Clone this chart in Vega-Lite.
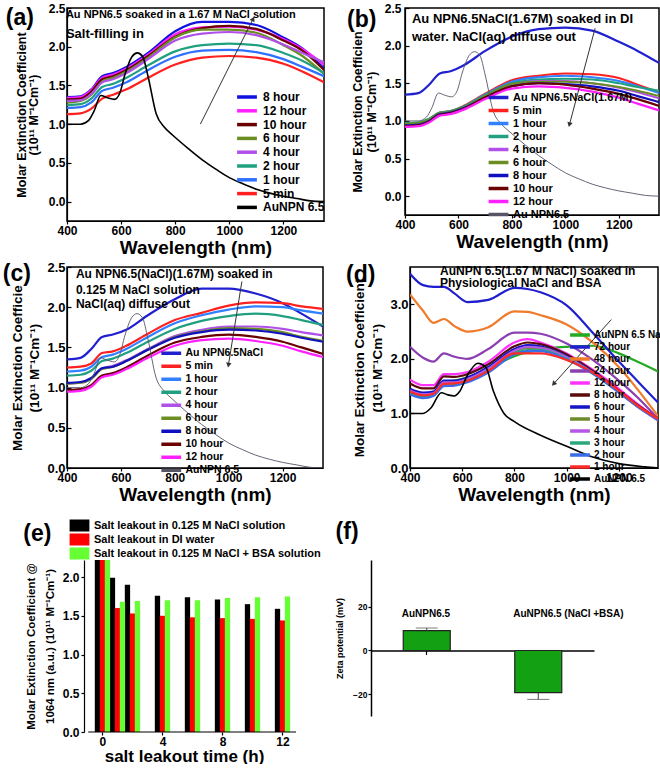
{
"$schema": "https://vega.github.io/schema/vega-lite/v6.json",
"background": "white",
"padding": {"left": 2, "top": 1, "right": 0, "bottom": 0},
"config": {
 "font": "Liberation Sans",
 "view": {"stroke": "#000", "strokeWidth": 1.5},
 "axis": {"grid": false, "labelFontWeight": "bold", "titleFontWeight": "bold", "labelColor": "#000", "titleColor": "#000", "domainColor": "#000", "tickColor": "#000", "domainWidth": 1.2, "tickWidth": 1.2, "tickSize": 3, "labelFlush": false, "labelOverlap": false, "labelFontSize": 12, "labelPadding": 1},
 "legend": {"labelFontWeight": "bold", "labelColor": "#000", "labelLimit": 400, "padding": 0, "direction": "vertical"}
},
"datasets": {
 "a": [
  {"s":"8 hour","w":400,"v":1.35},{"s":"8 hour","w":450,"v":1.36},{"s":"8 hour","w":490,"v":1.45},{"s":"8 hour","w":530,"v":1.62},{"s":"8 hour","w":570,"v":1.66},{"s":"8 hour","w":620,"v":1.74},{"s":"8 hour","w":700,"v":1.92},{"s":"8 hour","w":800,"v":2.2},{"s":"8 hour","w":900,"v":2.32},{"s":"8 hour","w":1000,"v":2.32},{"s":"8 hour","w":1100,"v":2.28},{"s":"8 hour","w":1200,"v":2.12},{"s":"8 hour","w":1270,"v":1.98},{"s":"8 hour","w":1350,"v":1.72},
  {"s":"12 hour","w":400,"v":1.34},{"s":"12 hour","w":450,"v":1.35},{"s":"12 hour","w":490,"v":1.44},{"s":"12 hour","w":530,"v":1.6},{"s":"12 hour","w":570,"v":1.64},{"s":"12 hour","w":620,"v":1.72},{"s":"12 hour","w":700,"v":1.9},{"s":"12 hour","w":800,"v":2.16},{"s":"12 hour","w":900,"v":2.25},{"s":"12 hour","w":1000,"v":2.26},{"s":"12 hour","w":1100,"v":2.22},{"s":"12 hour","w":1200,"v":2.1},{"s":"12 hour","w":1270,"v":1.97},{"s":"12 hour","w":1350,"v":1.77},
  {"s":"10 hour","w":400,"v":1.32},{"s":"10 hour","w":450,"v":1.33},{"s":"10 hour","w":490,"v":1.42},{"s":"10 hour","w":530,"v":1.58},{"s":"10 hour","w":570,"v":1.62},{"s":"10 hour","w":620,"v":1.7},{"s":"10 hour","w":700,"v":1.88},{"s":"10 hour","w":800,"v":2.13},{"s":"10 hour","w":900,"v":2.24},{"s":"10 hour","w":1000,"v":2.27},{"s":"10 hour","w":1100,"v":2.23},{"s":"10 hour","w":1200,"v":2.08},{"s":"10 hour","w":1270,"v":1.95},{"s":"10 hour","w":1350,"v":1.7},
  {"s":"6 hour","w":400,"v":1.28},{"s":"6 hour","w":450,"v":1.3},{"s":"6 hour","w":490,"v":1.38},{"s":"6 hour","w":530,"v":1.55},{"s":"6 hour","w":570,"v":1.6},{"s":"6 hour","w":620,"v":1.68},{"s":"6 hour","w":700,"v":1.86},{"s":"6 hour","w":800,"v":2.12},{"s":"6 hour","w":900,"v":2.22},{"s":"6 hour","w":1000,"v":2.22},{"s":"6 hour","w":1100,"v":2.18},{"s":"6 hour","w":1200,"v":2.02},{"s":"6 hour","w":1270,"v":1.88},{"s":"6 hour","w":1350,"v":1.65},
  {"s":"4 hour","w":400,"v":1.3},{"s":"4 hour","w":450,"v":1.31},{"s":"4 hour","w":490,"v":1.39},{"s":"4 hour","w":530,"v":1.54},{"s":"4 hour","w":570,"v":1.58},{"s":"4 hour","w":620,"v":1.66},{"s":"4 hour","w":700,"v":1.84},{"s":"4 hour","w":800,"v":2.08},{"s":"4 hour","w":900,"v":2.17},{"s":"4 hour","w":1000,"v":2.19},{"s":"4 hour","w":1100,"v":2.15},{"s":"4 hour","w":1200,"v":2.03},{"s":"4 hour","w":1270,"v":1.92},{"s":"4 hour","w":1350,"v":1.8},
  {"s":"2 hour","w":400,"v":1.25},{"s":"2 hour","w":450,"v":1.26},{"s":"2 hour","w":490,"v":1.33},{"s":"2 hour","w":530,"v":1.48},{"s":"2 hour","w":570,"v":1.52},{"s":"2 hour","w":620,"v":1.6},{"s":"2 hour","w":700,"v":1.76},{"s":"2 hour","w":800,"v":1.94},{"s":"2 hour","w":900,"v":2.02},{"s":"2 hour","w":1000,"v":2.04},{"s":"2 hour","w":1100,"v":2.02},{"s":"2 hour","w":1200,"v":1.92},{"s":"2 hour","w":1270,"v":1.82},{"s":"2 hour","w":1350,"v":1.66},
  {"s":"1 hour","w":400,"v":1.21},{"s":"1 hour","w":450,"v":1.22},{"s":"1 hour","w":490,"v":1.28},{"s":"1 hour","w":530,"v":1.43},{"s":"1 hour","w":570,"v":1.47},{"s":"1 hour","w":620,"v":1.54},{"s":"1 hour","w":700,"v":1.7},{"s":"1 hour","w":800,"v":1.87},{"s":"1 hour","w":900,"v":1.95},{"s":"1 hour","w":1000,"v":1.96},{"s":"1 hour","w":1100,"v":1.93},{"s":"1 hour","w":1200,"v":1.84},{"s":"1 hour","w":1270,"v":1.74},{"s":"1 hour","w":1350,"v":1.62},
  {"s":"5 min","w":400,"v":1.13},{"s":"5 min","w":450,"v":1.14},{"s":"5 min","w":490,"v":1.2},{"s":"5 min","w":530,"v":1.33},{"s":"5 min","w":570,"v":1.38},{"s":"5 min","w":620,"v":1.45},{"s":"5 min","w":700,"v":1.6},{"s":"5 min","w":800,"v":1.77},{"s":"5 min","w":900,"v":1.86},{"s":"5 min","w":1000,"v":1.88},{"s":"5 min","w":1100,"v":1.86},{"s":"5 min","w":1200,"v":1.78},{"s":"5 min","w":1270,"v":1.68},{"s":"5 min","w":1350,"v":1.54}
 ],
 "b": [
  {"s":"Au NPN6.5NaCl(1.67M)","w":400,"v":1.35},{"s":"Au NPN6.5NaCl(1.67M)","w":450,"v":1.37},{"s":"Au NPN6.5NaCl(1.67M)","w":490,"v":1.48},{"s":"Au NPN6.5NaCl(1.67M)","w":530,"v":1.63},{"s":"Au NPN6.5NaCl(1.67M)","w":570,"v":1.66},{"s":"Au NPN6.5NaCl(1.67M)","w":620,"v":1.74},{"s":"Au NPN6.5NaCl(1.67M)","w":700,"v":1.93},{"s":"Au NPN6.5NaCl(1.67M)","w":800,"v":2.12},{"s":"Au NPN6.5NaCl(1.67M)","w":900,"v":2.22},{"s":"Au NPN6.5NaCl(1.67M)","w":1000,"v":2.24},{"s":"Au NPN6.5NaCl(1.67M)","w":1100,"v":2.2},{"s":"Au NPN6.5NaCl(1.67M)","w":1200,"v":2.05},{"s":"Au NPN6.5NaCl(1.67M)","w":1270,"v":1.93},{"s":"Au NPN6.5NaCl(1.67M)","w":1350,"v":1.77},
  {"s":"5 min","w":400,"v":0.95},{"s":"5 min","w":450,"v":0.96},{"s":"5 min","w":490,"v":1.02},{"s":"5 min","w":530,"v":1.11},{"s":"5 min","w":570,"v":1.13},{"s":"5 min","w":620,"v":1.2},{"s":"5 min","w":700,"v":1.36},{"s":"5 min","w":800,"v":1.54},{"s":"5 min","w":900,"v":1.6},{"s":"5 min","w":1000,"v":1.63},{"s":"5 min","w":1100,"v":1.62},{"s":"5 min","w":1200,"v":1.57},{"s":"5 min","w":1270,"v":1.48},{"s":"5 min","w":1350,"v":1.38},
  {"s":"1 hour","w":400,"v":0.94},{"s":"1 hour","w":450,"v":0.95},{"s":"1 hour","w":490,"v":1.01},{"s":"1 hour","w":530,"v":1.1},{"s":"1 hour","w":570,"v":1.12},{"s":"1 hour","w":620,"v":1.19},{"s":"1 hour","w":700,"v":1.35},{"s":"1 hour","w":800,"v":1.52},{"s":"1 hour","w":900,"v":1.58},{"s":"1 hour","w":1000,"v":1.6},{"s":"1 hour","w":1100,"v":1.58},{"s":"1 hour","w":1200,"v":1.53},{"s":"1 hour","w":1270,"v":1.46},{"s":"1 hour","w":1350,"v":1.37},
  {"s":"2 hour","w":400,"v":0.97},{"s":"2 hour","w":450,"v":0.98},{"s":"2 hour","w":490,"v":1.03},{"s":"2 hour","w":530,"v":1.11},{"s":"2 hour","w":570,"v":1.13},{"s":"2 hour","w":620,"v":1.19},{"s":"2 hour","w":700,"v":1.34},{"s":"2 hour","w":800,"v":1.5},{"s":"2 hour","w":900,"v":1.55},{"s":"2 hour","w":1000,"v":1.56},{"s":"2 hour","w":1100,"v":1.55},{"s":"2 hour","w":1200,"v":1.5},{"s":"2 hour","w":1270,"v":1.45},{"s":"2 hour","w":1350,"v":1.4},
  {"s":"4 hour","w":400,"v":0.93},{"s":"4 hour","w":450,"v":0.94},{"s":"4 hour","w":490,"v":1.0},{"s":"4 hour","w":530,"v":1.09},{"s":"4 hour","w":570,"v":1.11},{"s":"4 hour","w":620,"v":1.17},{"s":"4 hour","w":700,"v":1.32},{"s":"4 hour","w":800,"v":1.48},{"s":"4 hour","w":900,"v":1.53},{"s":"4 hour","w":1000,"v":1.53},{"s":"4 hour","w":1100,"v":1.5},{"s":"4 hour","w":1200,"v":1.44},{"s":"4 hour","w":1270,"v":1.38},{"s":"4 hour","w":1350,"v":1.3},
  {"s":"6 hour","w":400,"v":0.96},{"s":"6 hour","w":450,"v":0.97},{"s":"6 hour","w":490,"v":1.02},{"s":"6 hour","w":530,"v":1.1},{"s":"6 hour","w":570,"v":1.12},{"s":"6 hour","w":620,"v":1.18},{"s":"6 hour","w":700,"v":1.33},{"s":"6 hour","w":800,"v":1.49},{"s":"6 hour","w":900,"v":1.52},{"s":"6 hour","w":1000,"v":1.52},{"s":"6 hour","w":1100,"v":1.5},{"s":"6 hour","w":1200,"v":1.45},{"s":"6 hour","w":1270,"v":1.4},{"s":"6 hour","w":1350,"v":1.33},
  {"s":"8 hour","w":400,"v":0.94},{"s":"8 hour","w":450,"v":0.95},{"s":"8 hour","w":490,"v":1.0},{"s":"8 hour","w":530,"v":1.09},{"s":"8 hour","w":570,"v":1.11},{"s":"8 hour","w":620,"v":1.17},{"s":"8 hour","w":700,"v":1.31},{"s":"8 hour","w":800,"v":1.46},{"s":"8 hour","w":900,"v":1.5},{"s":"8 hour","w":1000,"v":1.49},{"s":"8 hour","w":1100,"v":1.46},{"s":"8 hour","w":1200,"v":1.4},{"s":"8 hour","w":1270,"v":1.33},{"s":"8 hour","w":1350,"v":1.25},
  {"s":"10 hour","w":400,"v":0.93},{"s":"10 hour","w":450,"v":0.94},{"s":"10 hour","w":490,"v":0.99},{"s":"10 hour","w":530,"v":1.08},{"s":"10 hour","w":570,"v":1.1},{"s":"10 hour","w":620,"v":1.16},{"s":"10 hour","w":700,"v":1.31},{"s":"10 hour","w":800,"v":1.46},{"s":"10 hour","w":900,"v":1.5},{"s":"10 hour","w":1000,"v":1.48},{"s":"10 hour","w":1100,"v":1.43},{"s":"10 hour","w":1200,"v":1.36},{"s":"10 hour","w":1270,"v":1.29},{"s":"10 hour","w":1350,"v":1.2},
  {"s":"12 hour","w":400,"v":0.92},{"s":"12 hour","w":450,"v":0.93},{"s":"12 hour","w":490,"v":0.98},{"s":"12 hour","w":530,"v":1.07},{"s":"12 hour","w":570,"v":1.09},{"s":"12 hour","w":620,"v":1.15},{"s":"12 hour","w":700,"v":1.29},{"s":"12 hour","w":800,"v":1.43},{"s":"12 hour","w":900,"v":1.46},{"s":"12 hour","w":1000,"v":1.44},{"s":"12 hour","w":1100,"v":1.39},{"s":"12 hour","w":1200,"v":1.31},{"s":"12 hour","w":1270,"v":1.23},{"s":"12 hour","w":1350,"v":1.14}
 ],
 "c": [
  {"s":"Au NPN6.5NaCl","w":400,"v":1.35},{"s":"Au NPN6.5NaCl","w":450,"v":1.37},{"s":"Au NPN6.5NaCl","w":490,"v":1.48},{"s":"Au NPN6.5NaCl","w":530,"v":1.63},{"s":"Au NPN6.5NaCl","w":570,"v":1.66},{"s":"Au NPN6.5NaCl","w":620,"v":1.72},{"s":"Au NPN6.5NaCl","w":700,"v":1.9},{"s":"Au NPN6.5NaCl","w":800,"v":2.1},{"s":"Au NPN6.5NaCl","w":900,"v":2.23},{"s":"Au NPN6.5NaCl","w":1000,"v":2.23},{"s":"Au NPN6.5NaCl","w":1100,"v":2.17},{"s":"Au NPN6.5NaCl","w":1200,"v":2.05},{"s":"Au NPN6.5NaCl","w":1270,"v":1.92},{"s":"Au NPN6.5NaCl","w":1350,"v":1.76},
  {"s":"5 min","w":400,"v":1.25},{"s":"5 min","w":450,"v":1.26},{"s":"5 min","w":490,"v":1.3},{"s":"5 min","w":530,"v":1.43},{"s":"5 min","w":570,"v":1.45},{"s":"5 min","w":620,"v":1.52},{"s":"5 min","w":700,"v":1.67},{"s":"5 min","w":800,"v":1.84},{"s":"5 min","w":900,"v":1.93},{"s":"5 min","w":1000,"v":2.02},{"s":"5 min","w":1100,"v":2.06},{"s":"5 min","w":1200,"v":2.05},{"s":"5 min","w":1270,"v":2.01},{"s":"5 min","w":1350,"v":1.98},
  {"s":"1 hour","w":400,"v":1.2},{"s":"1 hour","w":450,"v":1.21},{"s":"1 hour","w":490,"v":1.26},{"s":"1 hour","w":530,"v":1.38},{"s":"1 hour","w":570,"v":1.41},{"s":"1 hour","w":620,"v":1.48},{"s":"1 hour","w":700,"v":1.63},{"s":"1 hour","w":800,"v":1.8},{"s":"1 hour","w":900,"v":1.9},{"s":"1 hour","w":1000,"v":1.97},{"s":"1 hour","w":1100,"v":2.01},{"s":"1 hour","w":1200,"v":2.0},{"s":"1 hour","w":1270,"v":1.96},{"s":"1 hour","w":1350,"v":1.92},
  {"s":"2 hour","w":400,"v":1.15},{"s":"2 hour","w":450,"v":1.16},{"s":"2 hour","w":490,"v":1.21},{"s":"2 hour","w":530,"v":1.33},{"s":"2 hour","w":570,"v":1.36},{"s":"2 hour","w":620,"v":1.43},{"s":"2 hour","w":700,"v":1.57},{"s":"2 hour","w":800,"v":1.73},{"s":"2 hour","w":900,"v":1.83},{"s":"2 hour","w":1000,"v":1.89},{"s":"2 hour","w":1100,"v":1.92},{"s":"2 hour","w":1200,"v":1.89},{"s":"2 hour","w":1270,"v":1.84},{"s":"2 hour","w":1350,"v":1.78},
  {"s":"4 hour","w":400,"v":1.05},{"s":"4 hour","w":450,"v":1.06},{"s":"4 hour","w":490,"v":1.11},{"s":"4 hour","w":530,"v":1.24},{"s":"4 hour","w":570,"v":1.27},{"s":"4 hour","w":620,"v":1.34},{"s":"4 hour","w":700,"v":1.48},{"s":"4 hour","w":800,"v":1.64},{"s":"4 hour","w":900,"v":1.72},{"s":"4 hour","w":1000,"v":1.76},{"s":"4 hour","w":1100,"v":1.76},{"s":"4 hour","w":1200,"v":1.73},{"s":"4 hour","w":1270,"v":1.69},{"s":"4 hour","w":1350,"v":1.65},
  {"s":"6 hour","w":400,"v":1.05},{"s":"6 hour","w":450,"v":1.06},{"s":"6 hour","w":490,"v":1.11},{"s":"6 hour","w":530,"v":1.23},{"s":"6 hour","w":570,"v":1.26},{"s":"6 hour","w":620,"v":1.33},{"s":"6 hour","w":700,"v":1.47},{"s":"6 hour","w":800,"v":1.63},{"s":"6 hour","w":900,"v":1.7},{"s":"6 hour","w":1000,"v":1.74},{"s":"6 hour","w":1100,"v":1.73},{"s":"6 hour","w":1200,"v":1.69},{"s":"6 hour","w":1270,"v":1.63},{"s":"6 hour","w":1350,"v":1.58},
  {"s":"8 hour","w":400,"v":1.06},{"s":"8 hour","w":450,"v":1.07},{"s":"8 hour","w":490,"v":1.12},{"s":"8 hour","w":530,"v":1.24},{"s":"8 hour","w":570,"v":1.26},{"s":"8 hour","w":620,"v":1.33},{"s":"8 hour","w":700,"v":1.47},{"s":"8 hour","w":800,"v":1.62},{"s":"8 hour","w":900,"v":1.69},{"s":"8 hour","w":1000,"v":1.72},{"s":"8 hour","w":1100,"v":1.71},{"s":"8 hour","w":1200,"v":1.67},{"s":"8 hour","w":1270,"v":1.62},{"s":"8 hour","w":1350,"v":1.57},
  {"s":"10 hour","w":400,"v":0.97},{"s":"10 hour","w":450,"v":0.98},{"s":"10 hour","w":490,"v":1.03},{"s":"10 hour","w":530,"v":1.15},{"s":"10 hour","w":570,"v":1.18},{"s":"10 hour","w":620,"v":1.25},{"s":"10 hour","w":700,"v":1.4},{"s":"10 hour","w":800,"v":1.56},{"s":"10 hour","w":900,"v":1.63},{"s":"10 hour","w":1000,"v":1.66},{"s":"10 hour","w":1100,"v":1.63},{"s":"10 hour","w":1200,"v":1.57},{"s":"10 hour","w":1270,"v":1.5},{"s":"10 hour","w":1350,"v":1.42},
  {"s":"12 hour","w":400,"v":0.95},{"s":"12 hour","w":450,"v":0.96},{"s":"12 hour","w":490,"v":1.01},{"s":"12 hour","w":530,"v":1.13},{"s":"12 hour","w":570,"v":1.16},{"s":"12 hour","w":620,"v":1.23},{"s":"12 hour","w":700,"v":1.37},{"s":"12 hour","w":800,"v":1.52},{"s":"12 hour","w":900,"v":1.59},{"s":"12 hour","w":1000,"v":1.61},{"s":"12 hour","w":1100,"v":1.58},{"s":"12 hour","w":1200,"v":1.52},{"s":"12 hour","w":1270,"v":1.45},{"s":"12 hour","w":1350,"v":1.38}
 ],
 "d": [
  {"s":"AuNPN 6.5 NaCl","w":400,"v":1.38},{"s":"AuNPN 6.5 NaCl","w":450,"v":1.32},{"s":"AuNPN 6.5 NaCl","w":490,"v":1.38},{"s":"AuNPN 6.5 NaCl","w":530,"v":1.58},{"s":"AuNPN 6.5 NaCl","w":570,"v":1.6},{"s":"AuNPN 6.5 NaCl","w":620,"v":1.66},{"s":"AuNPN 6.5 NaCl","w":700,"v":1.82},{"s":"AuNPN 6.5 NaCl","w":800,"v":2.05},{"s":"AuNPN 6.5 NaCl","w":850,"v":2.12},{"s":"AuNPN 6.5 NaCl","w":900,"v":2.17},{"s":"AuNPN 6.5 NaCl","w":1000,"v":2.22},{"s":"AuNPN 6.5 NaCl","w":1100,"v":2.24},{"s":"AuNPN 6.5 NaCl","w":1200,"v":2.1},{"s":"AuNPN 6.5 NaCl","w":1270,"v":1.95},{"s":"AuNPN 6.5 NaCl","w":1350,"v":1.77},
  {"s":"72 hour","w":400,"v":3.56},{"s":"72 hour","w":450,"v":3.35},{"s":"72 hour","w":490,"v":3.32},{"s":"72 hour","w":530,"v":3.32},{"s":"72 hour","w":570,"v":3.2},{"s":"72 hour","w":620,"v":3.04},{"s":"72 hour","w":700,"v":3.08},{"s":"72 hour","w":800,"v":3.3},{"s":"72 hour","w":850,"v":3.28},{"s":"72 hour","w":900,"v":3.22},{"s":"72 hour","w":1000,"v":2.98},{"s":"72 hour","w":1100,"v":2.48},{"s":"72 hour","w":1200,"v":1.95},{"s":"72 hour","w":1270,"v":1.6},{"s":"72 hour","w":1350,"v":1.2},
  {"s":"48 hour","w":400,"v":3.18},{"s":"48 hour","w":450,"v":2.88},{"s":"48 hour","w":490,"v":2.66},{"s":"48 hour","w":530,"v":2.73},{"s":"48 hour","w":570,"v":2.6},{"s":"48 hour","w":620,"v":2.5},{"s":"48 hour","w":700,"v":2.58},{"s":"48 hour","w":800,"v":2.87},{"s":"48 hour","w":850,"v":2.86},{"s":"48 hour","w":900,"v":2.8},{"s":"48 hour","w":1000,"v":2.63},{"s":"48 hour","w":1100,"v":2.3},{"s":"48 hour","w":1200,"v":1.85},{"s":"48 hour","w":1270,"v":1.45},{"s":"48 hour","w":1350,"v":0.95},
  {"s":"24 hour","w":400,"v":2.22},{"s":"24 hour","w":450,"v":2.02},{"s":"24 hour","w":490,"v":1.95},{"s":"24 hour","w":530,"v":2.1},{"s":"24 hour","w":570,"v":2.04},{"s":"24 hour","w":620,"v":2.0},{"s":"24 hour","w":700,"v":2.18},{"s":"24 hour","w":800,"v":2.48},{"s":"24 hour","w":850,"v":2.48},{"s":"24 hour","w":900,"v":2.46},{"s":"24 hour","w":1000,"v":2.28},{"s":"24 hour","w":1100,"v":1.98},{"s":"24 hour","w":1200,"v":1.6},{"s":"24 hour","w":1270,"v":1.3},{"s":"24 hour","w":1350,"v":0.9},
  {"s":"12 hour","w":400,"v":1.62},{"s":"12 hour","w":450,"v":1.52},{"s":"12 hour","w":490,"v":1.52},{"s":"12 hour","w":530,"v":1.72},{"s":"12 hour","w":570,"v":1.72},{"s":"12 hour","w":620,"v":1.76},{"s":"12 hour","w":700,"v":1.95},{"s":"12 hour","w":800,"v":2.3},{"s":"12 hour","w":850,"v":2.36},{"s":"12 hour","w":900,"v":2.3},{"s":"12 hour","w":1000,"v":2.1},{"s":"12 hour","w":1100,"v":1.8},{"s":"12 hour","w":1200,"v":1.45},{"s":"12 hour","w":1270,"v":1.18},{"s":"12 hour","w":1350,"v":0.9},
  {"s":"8 hour","w":400,"v":1.55},{"s":"8 hour","w":450,"v":1.46},{"s":"8 hour","w":490,"v":1.46},{"s":"8 hour","w":530,"v":1.68},{"s":"8 hour","w":570,"v":1.67},{"s":"8 hour","w":620,"v":1.72},{"s":"8 hour","w":700,"v":1.9},{"s":"8 hour","w":800,"v":2.23},{"s":"8 hour","w":850,"v":2.3},{"s":"8 hour","w":900,"v":2.27},{"s":"8 hour","w":1000,"v":2.08},{"s":"8 hour","w":1100,"v":1.78},{"s":"8 hour","w":1200,"v":1.42},{"s":"8 hour","w":1270,"v":1.16},{"s":"8 hour","w":1350,"v":0.9},
  {"s":"6 hour","w":400,"v":1.45},{"s":"6 hour","w":450,"v":1.38},{"s":"6 hour","w":490,"v":1.4},{"s":"6 hour","w":530,"v":1.6},{"s":"6 hour","w":570,"v":1.6},{"s":"6 hour","w":620,"v":1.66},{"s":"6 hour","w":700,"v":1.85},{"s":"6 hour","w":800,"v":2.18},{"s":"6 hour","w":850,"v":2.25},{"s":"6 hour","w":900,"v":2.23},{"s":"6 hour","w":1000,"v":2.05},{"s":"6 hour","w":1100,"v":1.76},{"s":"6 hour","w":1200,"v":1.4},{"s":"6 hour","w":1270,"v":1.15},{"s":"6 hour","w":1350,"v":0.88},
  {"s":"5 hour","w":400,"v":1.4},{"s":"5 hour","w":450,"v":1.33},{"s":"5 hour","w":490,"v":1.36},{"s":"5 hour","w":530,"v":1.56},{"s":"5 hour","w":570,"v":1.56},{"s":"5 hour","w":620,"v":1.62},{"s":"5 hour","w":700,"v":1.8},{"s":"5 hour","w":800,"v":2.13},{"s":"5 hour","w":850,"v":2.2},{"s":"5 hour","w":900,"v":2.2},{"s":"5 hour","w":1000,"v":2.03},{"s":"5 hour","w":1100,"v":1.75},{"s":"5 hour","w":1200,"v":1.4},{"s":"5 hour","w":1270,"v":1.14},{"s":"5 hour","w":1350,"v":0.9},
  {"s":"4 hour","w":400,"v":1.42},{"s":"4 hour","w":450,"v":1.35},{"s":"4 hour","w":490,"v":1.37},{"s":"4 hour","w":530,"v":1.57},{"s":"4 hour","w":570,"v":1.57},{"s":"4 hour","w":620,"v":1.63},{"s":"4 hour","w":700,"v":1.82},{"s":"4 hour","w":800,"v":2.15},{"s":"4 hour","w":850,"v":2.22},{"s":"4 hour","w":900,"v":2.2},{"s":"4 hour","w":1000,"v":2.03},{"s":"4 hour","w":1100,"v":1.74},{"s":"4 hour","w":1200,"v":1.38},{"s":"4 hour","w":1270,"v":1.13},{"s":"4 hour","w":1350,"v":0.87},
  {"s":"3 hour","w":400,"v":1.38},{"s":"3 hour","w":450,"v":1.31},{"s":"3 hour","w":490,"v":1.34},{"s":"3 hour","w":530,"v":1.53},{"s":"3 hour","w":570,"v":1.54},{"s":"3 hour","w":620,"v":1.6},{"s":"3 hour","w":700,"v":1.78},{"s":"3 hour","w":800,"v":2.1},{"s":"3 hour","w":850,"v":2.16},{"s":"3 hour","w":900,"v":2.16},{"s":"3 hour","w":1000,"v":2.0},{"s":"3 hour","w":1100,"v":1.73},{"s":"3 hour","w":1200,"v":1.39},{"s":"3 hour","w":1270,"v":1.13},{"s":"3 hour","w":1350,"v":0.89},
  {"s":"2 hour","w":400,"v":1.35},{"s":"2 hour","w":450,"v":1.28},{"s":"2 hour","w":490,"v":1.32},{"s":"2 hour","w":530,"v":1.5},{"s":"2 hour","w":570,"v":1.51},{"s":"2 hour","w":620,"v":1.57},{"s":"2 hour","w":700,"v":1.75},{"s":"2 hour","w":800,"v":2.08},{"s":"2 hour","w":850,"v":2.14},{"s":"2 hour","w":900,"v":2.14},{"s":"2 hour","w":1000,"v":1.99},{"s":"2 hour","w":1100,"v":1.73},{"s":"2 hour","w":1200,"v":1.39},{"s":"2 hour","w":1270,"v":1.13},{"s":"2 hour","w":1350,"v":0.88},
  {"s":"1 hour","w":400,"v":1.4},{"s":"1 hour","w":450,"v":1.33},{"s":"1 hour","w":490,"v":1.36},{"s":"1 hour","w":530,"v":1.54},{"s":"1 hour","w":570,"v":1.55},{"s":"1 hour","w":620,"v":1.6},{"s":"1 hour","w":700,"v":1.78},{"s":"1 hour","w":800,"v":2.1},{"s":"1 hour","w":850,"v":2.1},{"s":"1 hour","w":900,"v":2.1},{"s":"1 hour","w":1000,"v":1.98},{"s":"1 hour","w":1100,"v":1.75},{"s":"1 hour","w":1200,"v":1.42},{"s":"1 hour","w":1270,"v":1.15},{"s":"1 hour","w":1350,"v":0.9}
 ],
 "k": [
  {"w":400,"v":1.0},{"w":450,"v":1.0},{"w":480,"v":1.05},{"w":500,"v":1.17},{"w":525,"v":1.37},{"w":550,"v":1.34},{"w":575,"v":1.32},{"w":595,"v":1.4},{"w":615,"v":1.65},{"w":640,"v":1.87},{"w":660,"v":1.92},{"w":680,"v":1.87},{"w":700,"v":1.61},{"w":730,"v":1.13},{"w":760,"v":0.96},{"w":790,"v":0.86},{"w":850,"v":0.68},{"w":900,"v":0.54},{"w":950,"v":0.42},{"w":1000,"v":0.31},{"w":1050,"v":0.23},{"w":1100,"v":0.16},{"w":1150,"v":0.11},{"w":1200,"v":0.07},{"w":1250,"v":0.04},{"w":1300,"v":0.01},{"w":1350,"v":0.0}
 ],
 "kd": [
  {"w":400,"v":1.0},{"w":450,"v":1.0},{"w":480,"v":1.1},{"w":520,"v":1.38},{"w":545,"v":1.34},{"w":570,"v":1.32},{"w":590,"v":1.4},{"w":620,"v":1.7},{"w":660,"v":1.92},{"w":690,"v":1.85},{"w":720,"v":1.4},{"w":760,"v":1.0},{"w":800,"v":0.85},{"w":900,"v":0.6},{"w":1000,"v":0.4},{"w":1100,"v":0.2},{"w":1200,"v":0.08},{"w":1300,"v":0.02},{"w":1350,"v":0.0}
 ],
 "e": [
  {"k":"n","g":"Salt leakout in 0.125 M NaCl  solution","t":0,"m":2.3},{"k":"n","g":"Salt leakout in 0.125 M NaCl  solution","t":1,"m":1.99},{"k":"n","g":"Salt leakout in 0.125 M NaCl  solution","t":2,"m":1.9},{"k":"n","g":"Salt leakout in 0.125 M NaCl  solution","t":4,"m":1.76},{"k":"n","g":"Salt leakout in 0.125 M NaCl  solution","t":6,"m":1.74},{"k":"n","g":"Salt leakout in 0.125 M NaCl  solution","t":8,"m":1.71},{"k":"n","g":"Salt leakout in 0.125 M NaCl  solution","t":10,"m":1.65},{"k":"n","g":"Salt leakout in 0.125 M NaCl  solution","t":12,"m":1.59},
  {"k":"d","g":"Salt leakout  in DI water","t":0,"m":2.3},{"k":"d","g":"Salt leakout  in DI water","t":1,"m":1.6},{"k":"d","g":"Salt leakout  in DI water","t":2,"m":1.53},{"k":"d","g":"Salt leakout  in DI water","t":4,"m":1.5},{"k":"d","g":"Salt leakout  in DI water","t":6,"m":1.48},{"k":"d","g":"Salt leakout  in DI water","t":8,"m":1.47},{"k":"d","g":"Salt leakout  in DI water","t":10,"m":1.46},{"k":"d","g":"Salt leakout  in DI water","t":12,"m":1.44},
  {"k":"b","g":"Salt leakout in 0.125 M NaCl + BSA solution","t":0,"m":2.3},{"k":"b","g":"Salt leakout in 0.125 M NaCl + BSA solution","t":1,"m":1.68},{"k":"b","g":"Salt leakout in 0.125 M NaCl + BSA solution","t":2,"m":1.69},{"k":"b","g":"Salt leakout in 0.125 M NaCl + BSA solution","t":4,"m":1.7},{"k":"b","g":"Salt leakout in 0.125 M NaCl + BSA solution","t":6,"m":1.7},{"k":"b","g":"Salt leakout in 0.125 M NaCl + BSA solution","t":8,"m":1.73},{"k":"b","g":"Salt leakout in 0.125 M NaCl + BSA solution","t":10,"m":1.74},{"k":"b","g":"Salt leakout in 0.125 M NaCl + BSA solution","t":12,"m":1.75}
 ],
 "f": [
  {"cat":"AuNPN6.5","z":9.1,"e":10.3},
  {"cat":"AuNPN6.5 (NaCl +BSA)","z":-19.3,"e":-22.4}
 ]
},
"spacing": 2,
"resolve": {"scale": {"color": "independent", "x": "independent", "y": "independent"}, "axis": {"x": "independent", "y": "independent"}, "legend": {"color": "independent"}},
"vconcat": [
 {"spacing": 18,
  "resolve": {"scale": {"color": "independent", "x": "independent", "y": "independent"}, "axis": {"x": "independent", "y": "independent"}, "legend": {"color": "independent"}},
  "hconcat": [
  {"width": 257, "height": 213,
   "layer": [
    {"data": {"name": "a"}, "mark": {"type": "line", "interpolate": "monotone", "strokeWidth": 2.2, "clip": true},
     "encoding": {
      "x": {"field": "w", "type": "quantitative", "scale": {"domain": [400, 1350], "nice": false, "zero": false}, "axis": {"values": [400, 600, 800, 1000, 1200], "format": "d", "title": "Wavelength (nm)", "titleFontSize": 19, "titlePadding": 2}},
      "y": {"field": "v", "type": "quantitative", "scale": {"domain": [-0.25, 2.5], "nice": false, "zero": false}, "axis": {"values": [0, 0.5, 1, 1.5, 2, 2.5], "format": ".1f", "tickSize": -4, "labelPadding": 6, "title": ["Molar Extinction Coefficient", "(10¹¹ M⁻¹Cm⁻¹)"], "titleFontSize": 12.5, "titleLineHeight": 12, "titlePadding": 8}},
      "color": {"field": "s", "type": "nominal", "scale": {"domain": ["8 hour", "12 hour", "10 hour", "6 hour", "4 hour", "2 hour", "1 hour", "5 min", "AuNPN 6.5"], "range": ["#1010e0", "#ff20ff", "#6a0000", "#6b8e23", "#b050e8", "#20a080", "#3070ff", "#ff2020", "#000000"]},
        "legend": {"title": null, "orient": "none", "legendX": 174, "legendY": 83, "symbolType": "M-3.3,0H3.3", "symbolSize": 36, "symbolStrokeWidth": 3.5, "labelFontSize": 12, "labelOffset": 10, "rowPadding": -0.2}}
     }},
    {"data": {"name": "k"}, "mark": {"type": "line", "interpolate": "monotone", "strokeWidth": 1.6},
     "encoding": {"x": {"field": "w", "type": "quantitative"}, "y": {"field": "v", "type": "quantitative"}, "color": {"datum": "AuNPN 6.5"}}},
    {"data": {"values": [{}]}, "mark": {"type": "rule", "color": "#333", "strokeWidth": 1},
     "encoding": {"x": {"datum": 893}, "y": {"datum": 1.0}, "x2": {"datum": 1088}, "y2": {"datum": 2.36}}},
    {"data": {"values": [{}]}, "mark": {"type": "point", "shape": "triangle-up", "filled": true, "size": 30, "angle": 27, "color": "#333", "opacity": 1},
     "encoding": {"x": {"datum": 1088}, "y": {"datum": 2.36}}},
    {"data": {"values": [{}]}, "mark": {"type": "text", "align": "left", "baseline": "middle", "fontWeight": "bold", "fontSize": 11},
     "encoding": {"x": {"datum": 396}, "y": {"datum": 2.41}, "text": {"value": "Au NPN6.5 soaked in a 1.67 M NaCl solution"}}},
    {"data": {"values": [{}]}, "mark": {"type": "text", "align": "left", "baseline": "middle", "fontWeight": "bold", "fontSize": 13},
     "encoding": {"x": {"datum": 396}, "y": {"datum": 2.16}, "text": {"value": "Salt-filling in"}}},
    {"data": {"values": [{}]}, "mark": {"type": "text", "align": "left", "baseline": "middle", "fontWeight": "bold", "fontSize": 23},
     "encoding": {"x": {"datum": 174}, "y": {"datum": 2.37}, "text": {"value": "(a)"}}}
   ]},
  {"width": 254, "height": 207,
   "layer": [
    {"data": {"name": "b"}, "mark": {"type": "line", "interpolate": "monotone", "strokeWidth": 2.2, "clip": true},
     "encoding": {
      "x": {"field": "w", "type": "quantitative", "scale": {"domain": [400, 1350], "nice": false, "zero": false}, "axis": {"values": [400, 600, 800, 1000, 1200], "format": "d", "title": "Wavelength (nm)", "titleFontSize": 19, "titlePadding": 2}},
      "y": {"field": "v", "type": "quantitative", "scale": {"domain": [-0.25, 2.5], "nice": false, "zero": false}, "axis": {"values": [0, 0.5, 1, 1.5, 2, 2.5], "format": ".1f", "tickSize": -4, "labelPadding": 8, "title": ["Molar Extinction Coefficien", "(10¹¹ M⁻¹Cm⁻¹)"], "titleFontSize": 12.5, "titleLineHeight": 14, "titlePadding": 6}},
      "color": {"field": "s", "type": "nominal", "scale": {"domain": ["Au NPN6.5NaCl(1.67M)", "5 min", "1 hour", "2 hour", "4 hour", "6 hour", "8 hour", "10 hour", "12 hour", "Au NPN6.5"], "range": ["#2020d0", "#ff2020", "#3080ff", "#20a080", "#b050e8", "#6b8e23", "#1010c0", "#6a0000", "#ff20ff", "#555566"]},
        "legend": {"title": null, "orient": "none", "legendX": 88, "legendY": 84, "symbolType": "M-3.3,0H3.3", "symbolSize": 36, "symbolStrokeWidth": 3.5, "labelFontSize": 11, "labelOffset": 9, "rowPadding": -2.6}}
     }},
    {"data": {"name": "k"}, "mark": {"type": "line", "interpolate": "monotone", "strokeWidth": 0.9},
     "encoding": {"x": {"field": "w", "type": "quantitative"}, "y": {"field": "v", "type": "quantitative"}, "color": {"datum": "Au NPN6.5"}}},
    {"data": {"values": [{}]}, "mark": {"type": "rule", "color": "#333", "strokeWidth": 1},
     "encoding": {"x": {"datum": 1111}, "y": {"datum": 2.23}, "x2": {"datum": 1015}, "y2": {"datum": 0.95}}},
    {"data": {"values": [{}]}, "mark": {"type": "point", "shape": "triangle-up", "filled": true, "size": 30, "angle": 195, "color": "#333", "opacity": 1},
     "encoding": {"x": {"datum": 1015}, "y": {"datum": 0.95}}},
    {"data": {"values": [{}]}, "mark": {"type": "text", "align": "left", "baseline": "middle", "fontWeight": "bold", "fontSize": 13},
     "encoding": {"x": {"datum": 426}, "y": {"datum": 2.35}, "text": {"value": "Au NPN6.5NaCl(1.67M) soaked in DI"}}},
    {"data": {"values": [{}]}, "mark": {"type": "text", "align": "left", "baseline": "middle", "fontWeight": "bold", "fontSize": 13},
     "encoding": {"x": {"datum": 426}, "y": {"datum": 2.115}, "text": {"value": "water.  NaCl(aq) diffuse out"}}},
    {"data": {"values": [{}]}, "mark": {"type": "text", "align": "left", "baseline": "middle", "fontWeight": "bold", "fontSize": 23},
     "encoding": {"x": {"datum": 183}, "y": {"datum": 2.34}, "text": {"value": "(b)"}}}
   ]}
 ]},
 {"spacing": 15,
  "resolve": {"scale": {"color": "independent", "x": "independent", "y": "independent"}, "axis": {"x": "independent", "y": "independent"}, "legend": {"color": "independent"}},
  "vconcat": [
  {"spacing": 21,
   "resolve": {"scale": {"color": "independent", "x": "independent", "y": "independent"}, "axis": {"x": "independent", "y": "independent"}, "legend": {"color": "independent"}},
   "hconcat": [
   {"width": 256, "height": 201,
    "layer": [
     {"data": {"name": "c"}, "mark": {"type": "line", "interpolate": "monotone", "strokeWidth": 2.2, "clip": true},
      "encoding": {
       "x": {"field": "w", "type": "quantitative", "scale": {"domain": [400, 1350], "nice": false, "zero": false}, "axis": {"values": [400, 600, 800, 1000, 1200], "format": "d", "title": "Wavelength (nm)", "titleFontSize": 19, "titlePadding": 2}},
       "y": {"field": "v", "type": "quantitative", "scale": {"domain": [0, 2.5], "nice": false, "zero": false}, "axis": {"values": [0, 0.5, 1, 1.5, 2, 2.5], "format": ".1f", "labelFontSize": 13, "tickSize": -4, "labelPadding": 6, "title": ["Molar Extinction Coefficie", "(10¹¹ M⁻¹Cm⁻¹)"], "titleFontSize": 13.5, "titleLineHeight": 17, "titlePadding": 5}},
       "color": {"field": "s", "type": "nominal", "scale": {"domain": ["Au NPN6.5NaCl", "5 min", "1 hour", "2 hour", "4 hour", "6 hour", "8 hour", "10 hour", "12 hour", "AuNPN 6.5"], "range": ["#2020d0", "#ff2020", "#3080ff", "#20a080", "#b050e8", "#6b8e23", "#1010c0", "#6a0000", "#ff20ff", "#555566"]},
         "legend": {"title": null, "orient": "none", "legendX": 99, "legendY": 81, "symbolType": "M-3.3,0H3.3", "symbolSize": 36, "symbolStrokeWidth": 3.5, "labelFontSize": 10.5, "labelOffset": 9, "rowPadding": -3.2}}
      }},
     {"data": {"name": "k"}, "mark": {"type": "line", "interpolate": "monotone", "strokeWidth": 0.9, "clip": true},
      "encoding": {"x": {"field": "w", "type": "quantitative"}, "y": {"field": "v", "type": "quantitative"}, "color": {"datum": "AuNPN 6.5"}}},
     {"data": {"values": [{}]}, "mark": {"type": "rule", "color": "#333", "strokeWidth": 1},
      "encoding": {"x": {"datum": 1049}, "y": {"datum": 2.32}, "x2": {"datum": 999}, "y2": {"datum": 1.28}}},
     {"data": {"values": [{}]}, "mark": {"type": "point", "shape": "triangle-up", "filled": true, "size": 30, "angle": 189, "color": "#333", "opacity": 1},
      "encoding": {"x": {"datum": 999}, "y": {"datum": 1.28}}},
     {"data": {"values": [{}]}, "mark": {"type": "text", "align": "left", "baseline": "middle", "fontWeight": "bold", "fontSize": 12},
      "encoding": {"x": {"datum": 433}, "y": {"datum": 2.41}, "text": {"value": "Au NPN6.5(NaCl)(1.67M) soaked in"}}},
     {"data": {"values": [{}]}, "mark": {"type": "text", "align": "left", "baseline": "middle", "fontWeight": "bold", "fontSize": 12},
      "encoding": {"x": {"datum": 433}, "y": {"datum": 2.21}, "text": {"value": "0.125 M NaCl solution"}}},
     {"data": {"values": [{}]}, "mark": {"type": "text", "align": "left", "baseline": "middle", "fontWeight": "bold", "fontSize": 12},
      "encoding": {"x": {"datum": 433}, "y": {"datum": 2.04}, "text": {"value": "NaCl(aq)  diffuse out"}}},
     {"data": {"values": [{}]}, "mark": {"type": "text", "align": "left", "baseline": "middle", "fontWeight": "bold", "fontSize": 23},
      "encoding": {"x": {"datum": 162}, "y": {"datum": 2.41}, "text": {"value": "(c)"}}}
    ]},
   {"width": 248, "height": 201,
    "layer": [
     {"data": {"name": "d"}, "mark": {"type": "line", "interpolate": "monotone", "strokeWidth": 2.2, "clip": true},
      "encoding": {
       "x": {"field": "w", "type": "quantitative", "scale": {"domain": [400, 1350], "nice": false, "zero": false}, "axis": {"values": [400, 600, 800, 1000, 1200], "format": "d", "title": "Wavelength (nm)", "titleFontSize": 19, "titlePadding": 2}},
       "y": {"field": "v", "type": "quantitative", "scale": {"domain": [0, 3.683], "nice": false, "zero": false}, "axis": {"values": [0, 0.5, 1, 1.5, 2, 2.5, 3, 3.5], "format": ".1f", "labelFontSize": 13, "tickSize": -4, "labelPadding": 6, "title": ["Molar Extinction Coefficient", "(10¹¹ M⁻¹Cm⁻¹)"], "titleFontSize": 13.5, "titleLineHeight": 18, "titlePadding": 5}},
       "color": {"field": "s", "type": "nominal", "scale": {"domain": ["AuNPN 6.5 NaCl", "72 hour", "48 hour", "24 hour", "12 hour", "8 hour", "6 hour", "5 hour", "4 hour", "3 hour", "2 hour", "1 hour", "AuNPN 6.5"], "range": ["#22aa22", "#1f1fcf", "#f07a2a", "#8b3fb0", "#ff33ff", "#5a0a0a", "#1515c8", "#6e8b2a", "#b657e8", "#2aa87a", "#3a6ee8", "#ff2a2a", "#000000"]},
         "legend": {"title": null, "orient": "none", "legendX": 165, "legendY": 63, "symbolType": "M-3.3,0H3.3", "symbolSize": 36, "symbolStrokeWidth": 3.5, "labelFontSize": 10, "labelOffset": 9, "rowPadding": -6}}
      }},
     {"data": {"name": "kd"}, "mark": {"type": "line", "interpolate": "monotone", "strokeWidth": 1.6, "clip": true},
      "encoding": {"x": {"field": "w", "type": "quantitative"}, "y": {"field": "v", "type": "quantitative"}, "color": {"datum": "AuNPN 6.5"}}},
     {"data": {"values": [{}]}, "mark": {"type": "rule", "color": "#333", "strokeWidth": 1},
      "encoding": {"x": {"datum": 1171}, "y": {"datum": 2.72}, "x2": {"datum": 950}, "y2": {"datum": 1.54}}},
     {"data": {"values": [{}]}, "mark": {"type": "point", "shape": "triangle-up", "filled": true, "size": 30, "angle": 222, "color": "#333", "opacity": 1},
      "encoding": {"x": {"datum": 950}, "y": {"datum": 1.54}}},
     {"data": {"values": [{}]}, "mark": {"type": "text", "align": "left", "baseline": "middle", "fontWeight": "bold", "fontSize": 12},
      "encoding": {"x": {"datum": 515}, "y": {"datum": 3.61}, "text": {"value": "AuNPN 6.5(1.67 M NaCl) soaked in"}}},
     {"data": {"values": [{}]}, "mark": {"type": "text", "align": "left", "baseline": "middle", "fontWeight": "bold", "fontSize": 12},
      "encoding": {"x": {"datum": 515}, "y": {"datum": 3.39}, "text": {"value": "Physiological NaCl and BSA"}}},
     {"data": {"values": [{}]}, "mark": {"type": "text", "align": "left", "baseline": "middle", "fontWeight": "bold", "fontSize": 23},
      "encoding": {"x": {"datum": 155}, "y": {"datum": 3.53}, "text": {"value": "(d)"}}}
    ]}
  ]},
  {"spacing": 13,
   "resolve": {"scale": {"color": "independent", "x": "independent", "y": "independent"}, "axis": {"x": "independent", "y": "independent"}, "legend": {"color": "independent"}},
   "hconcat": [
   {"width": 234, "height": 172, "view": {"stroke": null},
    "layer": [
     {"data": {"name": "e"}, "transform": [{"filter": "datum.k == 'n'"}], "mark": {"type": "bar", "width": 5.3, "xOffset": -5, "clip": true},
      "encoding": {
       "x": {"field": "t", "type": "quantitative", "scale": {"domain": [-2.03, 12.9], "nice": false, "zero": false}, "axis": {"values": [0, 2, 4, 6, 8, 10, 12], "domain": false, "title": "salt leakout time (h)", "titleFontSize": 17, "titlePadding": 1}},
       "y": {"field": "m", "type": "quantitative", "scale": {"domain": [0, 2.22], "nice": false}, "axis": {"values": [0, 0.5, 1, 1.5, 2], "format": ".1f", "offset": -17, "labelPadding": 2, "title": ["Molar Extinction Coefficient @", "1064 nm (a.u.) (10¹¹ M⁻¹Cm⁻¹)"], "titleFontSize": 11.5, "titleLineHeight": 19, "titlePadding": 7}},
       "color": {"field": "g", "type": "nominal", "scale": {"domain": ["Salt leakout in 0.125 M NaCl  solution", "Salt leakout  in DI water", "Salt leakout in 0.125 M NaCl + BSA solution"], "range": ["#000000", "#ff0000", "#66ff33"]},
         "legend": {"title": null, "orient": "none", "legendX": 7, "legendY": -40, "symbolType": "M-3.3,-2H3.3V2H-3.3Z", "symbolSize": 36, "symbolStrokeWidth": 0, "labelFontSize": 11, "labelOffset": 9, "rowPadding": 1}}
      }},
     {"data": {"name": "e"}, "transform": [{"filter": "datum.k == 'd'"}], "mark": {"type": "bar", "width": 5.3, "xOffset": 0, "clip": true},
      "encoding": {"x": {"field": "t", "type": "quantitative"}, "y": {"field": "m", "type": "quantitative"}, "color": {"field": "g", "type": "nominal"}}},
     {"data": {"name": "e"}, "transform": [{"filter": "datum.k == 'b'"}], "mark": {"type": "bar", "width": 5.3, "xOffset": 5, "clip": true},
      "encoding": {"x": {"field": "t", "type": "quantitative"}, "y": {"field": "m", "type": "quantitative"}, "color": {"field": "g", "type": "nominal"}}},
     {"data": {"values": [{}]}, "mark": {"type": "rule", "color": "#000", "strokeWidth": 1.2},
      "encoding": {"x": {"datum": -0.95}, "x2": {"datum": 12.9}, "y": {"datum": 0}}},
     {"data": {"values": [{}]}, "mark": {"type": "text", "align": "left", "baseline": "middle", "fontWeight": "bold", "fontSize": 23},
      "encoding": {"x": {"datum": -5.28}, "y": {"datum": 2.56}, "text": {"value": "(e)"}}}
    ]},
   {"width": 223, "height": 156, "view": {"stroke": null},
    "title": {"text": "(f)", "anchor": "start", "frame": "bounds", "fontSize": 23, "fontWeight": "bold", "offset": 16},
    "data": {"name": "f"},
    "layer": [
     {"mark": {"type": "bar", "width": 47, "fill": "#13a013", "stroke": "#222", "strokeWidth": 1.2},
      "encoding": {
       "x": {"field": "cat", "type": "nominal", "sort": null, "scale": {"paddingInner": 0.1, "paddingOuter": 0.05}, "axis": {"orient": "bottom", "offset": -65.5, "labels": false, "title": null, "tickSize": 4, "domainWidth": 1.5}},
       "y": {"field": "z", "type": "quantitative", "scale": {"domain": [-30, 41.45], "nice": false}, "axis": {"values": [-20, 0, 20], "labelFontSize": 8.5, "tickSize": 3, "labelPadding": 1, "domainWidth": 1.5, "title": "Zeta potential (mV)", "titleFontSize": 9, "titlePadding": 8}}
      }},
     {"mark": {"type": "rule", "color": "#444", "strokeWidth": 1},
      "encoding": {"x": {"field": "cat", "type": "nominal", "sort": null}, "y": {"field": "z", "type": "quantitative"}, "y2": {"field": "e"}}},
     {"mark": {"type": "tick", "color": "#444", "size": 22, "thickness": 1},
      "encoding": {"x": {"field": "cat", "type": "nominal", "sort": null}, "y": {"field": "e", "type": "quantitative"}}},
     {"mark": {"type": "text", "align": "left", "baseline": "middle", "dx": -25, "fontWeight": "bold", "fontSize": 10},
      "encoding": {"x": {"field": "cat", "type": "nominal", "sort": null}, "y": {"datum": 16.7}, "text": {"field": "cat"}}}
    ]}
  ]}
 ]}
]
}
